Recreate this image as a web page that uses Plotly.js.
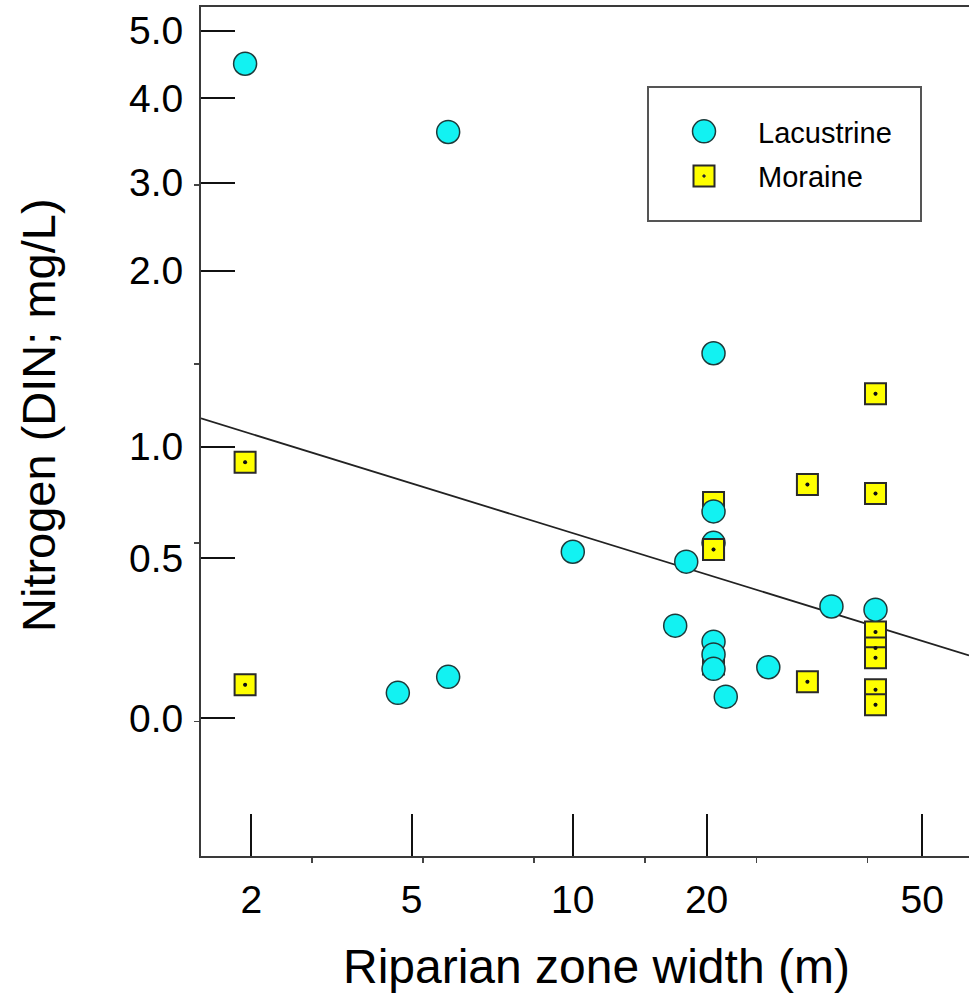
<!DOCTYPE html>
<html><head><meta charset="utf-8">
<script src="https://cdn.plot.ly/plotly-3.0.1.min.js"></script>
<style>html,body{margin:0;padding:0;background:#fff}#chart{width:969px;height:995px}</style>
</head><body><div id="chart"></div>
<script>
// ---- data (x: riparian zone width, m; y: DIN, mg/L) ----
const lacustrineX = [1.93, 5.85, 20.6, 20.6, 20.6, 18.0, 10.0, 17.0, 20.6, 20.6, 20.6, 21.7, 26.0, 34.0, 41.0, 4.62, 5.85];
const lacustrineY = [4.51, 3.60, 1.53, 0.71, 0.57, 0.49, 0.53, 0.29, 0.24, 0.20, 0.155, 0.068, 0.16, 0.35, 0.34, 0.08, 0.13];
const moraineX = [1.93, 1.93, 20.6, 20.6, 20.6, 30.7, 30.7, 41.0, 41.0, 41.0, 41.0, 41.0, 41.0, 41.0];
const moraineY = [0.93, 0.105, 0.75, 0.54, 0.17, 0.83, 0.115, 1.30, 0.79, 0.27, 0.22, 0.19, 0.09, 0.043];
const moraineFrontIdx = [3];          // moraine point drawn above the circles
const fitX = [1.5, 61];
const fitY = [1.16, 0.197];
const xTickLabels = [2, 5, 10, 20, 50];
const yTickLabels = [0.0, 0.5, 1.0, 2.0, 3.0, 4.0, 5.0];
const yTickText = ['0.0', '0.5', '1.0', '2.0', '3.0', '4.0', '5.0'];
const xRangeVals = [1.5, 61];
const yRangeVals = [-0.43, 5.35];

// ---- axis scale (the original figure's labels sit on an irregular scale) ----
const xKnotU = [0.4555, 1.8985, 3.3486, 4.5526, 6.4933];
const yKnotU = [0.0184, 0.9123, 1.538, 2.5212, 3.0128, 3.4844, 3.862];
const xMinorU = [0, 1, 2, 3, 4, 5, 6];
const yMinorU = [0, 1, 2, 3];

function interp(v, ks, us) {
  let i = 0;
  while (i < ks.length - 2 && v > ks[i + 1]) i++;
  return us[i] + (v - ks[i]) * (us[i + 1] - us[i]) / (ks[i + 1] - ks[i]);
}
const xLogKnots = xTickLabels.map(Math.log10);
const toUx = v => interp(Math.log10(v), xLogKnots, xKnotU);
const toUy = v => interp(v, yTickLabels, yKnotU);

const FONT = 'Liberation Sans, Arial, Helvetica, sans-serif';
const squareMarker = {symbol: 'square-dot', size: 21, color: '#FFFF00', line: {color: '#2a2a2a', width: 2}};
const dotMarker = {symbol: 'circle', size: 4, color: '#111', line: {width: 0}};
const frontX = moraineFrontIdx.map(i => toUx(moraineX[i]));
const frontY = moraineFrontIdx.map(i => toUy(moraineY[i]));

const traces = [
  {
    x: fitX.map(toUx), y: fitY.map(toUy), type: 'scatter', mode: 'lines',
    line: {color: '#222', width: 1.8}, showlegend: false, hoverinfo: 'skip'
  },
  {
    name: 'Moraine', legendgroup: 'mor', legendrank: 2,
    x: moraineX.map(toUx), y: moraineY.map(toUy), type: 'scatter', mode: 'markers',
    marker: squareMarker
  },
  {
    name: 'Moraine', legendgroup: 'mor', showlegend: false,
    x: moraineX.map(toUx), y: moraineY.map(toUy), type: 'scatter', mode: 'markers',
    marker: dotMarker
  },
  {
    name: 'Lacustrine', legendgroup: 'lac', legendrank: 1,
    x: lacustrineX.map(toUx), y: lacustrineY.map(toUy), type: 'scatter', mode: 'markers',
    marker: {symbol: 'circle', size: 23, color: '#12F2F2', line: {color: '#1d3a3a', width: 1.5}}
  },
  {
    name: 'Moraine', legendgroup: 'mor', showlegend: false,
    x: frontX, y: frontY, type: 'scatter', mode: 'markers', marker: squareMarker
  },
  {
    name: 'Moraine', legendgroup: 'mor', showlegend: false,
    x: frontX, y: frontY, type: 'scatter', mode: 'markers', marker: dotMarker
  }
];

const W = 969, H = 995, L = 201, R = 0, T = 7, B = 139;
const pw = W - L - R, ph = H - T - B;
const px2paperX = p => (p - L) / pw;
const px2paperY = p => (H - B - p) / ph;

const layout = {
  width: W, height: H,
  margin: {l: L, r: R, t: T, b: B, pad: 0},
  paper_bgcolor: '#fff', plot_bgcolor: '#fff',
  font: {family: FONT, color: '#000'},
  showlegend: true,
  xaxis: {
    range: xRangeVals.map(toUx), showgrid: false, zeroline: false,
    showline: true, linecolor: '#3a3a3a', linewidth: 2, mirror: true,
    tickmode: 'array', tickvals: xTickLabels.map(toUx), ticktext: xTickLabels.map(String),
    ticks: 'inside', ticklen: 42, tickwidth: 2, tickcolor: '#111',
    tickfont: {size: 39, family: FONT, color: '#000'}, ticklabelstandoff: 8,
    minor: {tickmode: 'array', tickvals: xMinorU, ticks: 'outside', ticklen: 5, tickwidth: 1.5, tickcolor: '#444'}
  },
  yaxis: {
    range: yRangeVals.map(toUy), showgrid: false, zeroline: false,
    showline: true, linecolor: '#3a3a3a', linewidth: 2,
    tickmode: 'array', tickvals: yTickLabels.map(toUy), ticktext: yTickText,
    ticks: 'inside', ticklen: 34, tickwidth: 2, tickcolor: '#111',
    tickfont: {size: 39, family: FONT, color: '#000'}, ticklabelstandoff: 8,
    minor: {tickmode: 'array', tickvals: yMinorU, ticks: 'outside', ticklen: 5, tickwidth: 1.5, tickcolor: '#444'}
  },
  legend: {
    x: px2paperX(650), y: px2paperY(106), xanchor: 'left', yanchor: 'top',
    bgcolor: 'rgba(0,0,0,0)', borderwidth: 0,
    font: {size: 29, family: FONT, color: '#000'},
    itemwidth: 98, traceorder: 'grouped', tracegroupgap: 4
  },
  shapes: [{
    type: 'rect', xref: 'paper', yref: 'paper', layer: 'above',
    x0: px2paperX(648), x1: px2paperX(921), y0: px2paperY(221), y1: px2paperY(87),
    line: {color: '#555', width: 2}
  }],
  annotations: [
    {text: 'Riparian zone width (m)', xref: 'paper', yref: 'paper',
     x: px2paperX(596), y: px2paperY(966), xanchor: 'center', yanchor: 'middle',
     showarrow: false, font: {size: 48, family: FONT, color: '#000'}},
    {text: 'Nitrogen (DIN; mg/L)', xref: 'paper', yref: 'paper', textangle: -90,
     x: px2paperX(38), y: px2paperY(415), xanchor: 'center', yanchor: 'middle',
     showarrow: false, font: {size: 47, family: FONT, color: '#000'}}
  ]
};

Plotly.newPlot('chart', traces, layout, {displayModeBar: false, staticPlot: true}).then(gd => {
  // enlarge legend symbols to the size of the plotted markers
  const targets = [23, 21];
  const strokes = [1.5, 2];
  gd.querySelectorAll('.legend .traces').forEach((g, i) => {
    const k = (targets[i] || 16) / 16;
    g.querySelectorAll('path.scatterpts').forEach(p => {
      const t = p.getAttribute('transform') || '';
      p.setAttribute('transform', t + ' scale(' + k + ')');
      p.style.strokeWidth = ((strokes[i] || 1.5) / k) + 'px';
    });
  });
});
</script>
</body></html>
